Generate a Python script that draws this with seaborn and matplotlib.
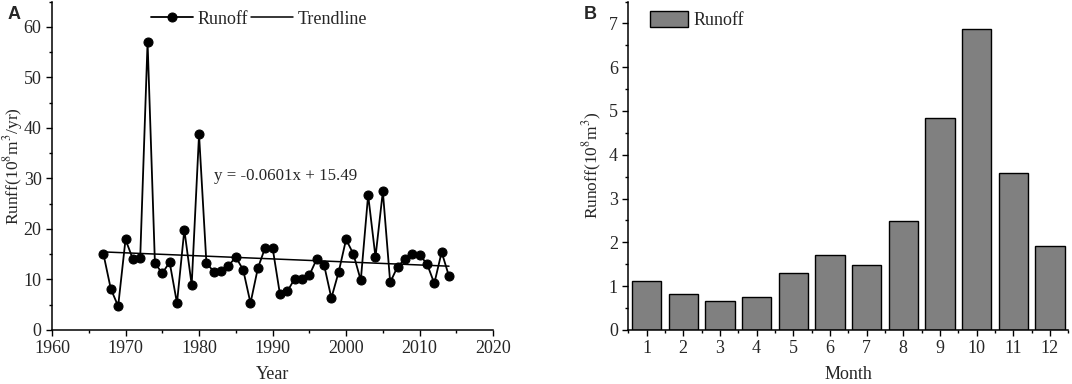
import numpy as np
import pandas as pd
import matplotlib
matplotlib.use("Agg")
import matplotlib.pyplot as plt
from matplotlib.ticker import MultipleLocator
import seaborn as sns

# annual runoff (10^8 m3/yr)
years = list(range(1967, 2015))
runoff = [15.0, 8.1, 4.7, 17.9, 14.0, 14.3, 57.0, 13.2, 11.2, 13.4,
          5.3, 19.8, 8.9, 38.7, 13.3, 11.5, 11.7, 12.7, 14.4, 11.9,
          5.3, 12.2, 16.3, 16.3, 7.1, 7.6, 10.1, 10.1, 10.8, 14.0,
          12.9, 6.3, 11.5, 17.9, 15.0, 9.8, 26.7, 14.4, 27.4, 9.4,
          12.5, 14.0, 15.0, 14.8, 13.1, 9.2, 15.4, 10.6]
slope, intercept = -0.0601, 15.49

# mean monthly runoff (10^8 m3)
months = [str(m) for m in range(1, 13)]
monthly = [1.12, 0.83, 0.65, 0.76, 1.31, 1.70, 1.49, 2.49, 4.84, 6.88, 3.58, 1.92]

df_year = pd.DataFrame({"Year": years, "Runoff": runoff})
df_year["Trend"] = slope * np.arange(1, len(years) + 1) + intercept
df_month = pd.DataFrame({"Month": months, "Runoff": monthly})

sns.set_style("ticks")
plt.rcParams["font.family"] = ["Liberation Serif", "DejaVu Serif"]
plt.rcParams["mathtext.fontset"] = "stix"
plt.rcParams["xtick.direction"] = "out"
plt.rcParams["ytick.direction"] = "out"

fig = plt.figure(figsize=(10.72, 3.84), dpi=100)
ax1 = fig.add_axes([0.0485, 0.141, 0.4115, 0.855])
ax2 = fig.add_axes([0.586, 0.141, 0.4105, 0.855])

# A: annual runoff with trendline
sns.lineplot(data=df_year, x="Year", y="Runoff", color="black", lw=1.3,
             marker="o", markersize=6.5, markeredgecolor="black",
             label="Runoff", ax=ax1)
sns.lineplot(data=df_year, x="Year", y="Trend", color="black", lw=1.1,
             label="Trendline", ax=ax1)
ax1.set_xlim(1960, 2020)
ax1.set_ylim(0, 65)
ax1.xaxis.set_major_locator(MultipleLocator(10))
ax1.xaxis.set_minor_locator(MultipleLocator(5))
ax1.yaxis.set_major_locator(MultipleLocator(10))
ax1.yaxis.set_minor_locator(MultipleLocator(5))
ax1.set_xlabel("Year", fontsize=13, labelpad=6)
ax1.set_ylabel("Runff(10$^8$m$^3$/yr)", fontsize=12.5)
ax1.yaxis.set_label_coords(-0.062, 0.5)
ax1.text(1982, 30.5, "y = -0.0601x + 15.49", fontsize=12.2, va="center")
ax1.legend(loc="upper left", bbox_to_anchor=(0.2, 1.005), ncol=2, frameon=False,
           fontsize=13, handlelength=2.3, columnspacing=0.2, handletextpad=0.25,
           borderaxespad=0.2)
sns.despine(ax=ax1)

# B: monthly runoff bars
sns.barplot(data=df_month, x="Month", y="Runoff", color="#808080",
            saturation=1, edgecolor="black", linewidth=1.0, width=0.8,
            label="Runoff", ax=ax2)
ax2.set_xlim(-0.5, 11.5)
ax2.set_ylim(0, 7.5)
ax2.xaxis.set_minor_locator(MultipleLocator(0.5))
ax2.yaxis.set_major_locator(MultipleLocator(1))
ax2.yaxis.set_minor_locator(MultipleLocator(0.5))
ax2.set_xlabel("Month", fontsize=13, labelpad=6)
ax2.set_ylabel("Runoff(10$^8$m$^3$)", fontsize=12.5)
ax2.yaxis.set_label_coords(-0.054, 0.5)
ax2.legend(loc="upper left", bbox_to_anchor=(0.03, 1.0), frameon=False,
           fontsize=13, handlelength=2.1, handleheight=1.0, handletextpad=0.3,
           borderaxespad=0.1)
sns.despine(ax=ax2)

for ax in (ax1, ax2):
    ax.tick_params(which="major", length=4, width=1, labelsize=13, color="black")
    ax.tick_params(which="minor", length=2.5, width=1, color="black")
    for s in ("left", "bottom"):
        ax.spines[s].set_linewidth(1.1)
        ax.spines[s].set_color("black")

fig.text(0.013, 0.961, "A", fontsize=13, fontweight="bold", ha="center", va="center",
         family=["Liberation Sans", "DejaVu Sans"])
fig.text(0.551, 0.961, "B", fontsize=13, fontweight="bold", ha="center", va="center",
         family=["Liberation Sans", "DejaVu Sans"])

fig.savefig("out.png", dpi=100)
